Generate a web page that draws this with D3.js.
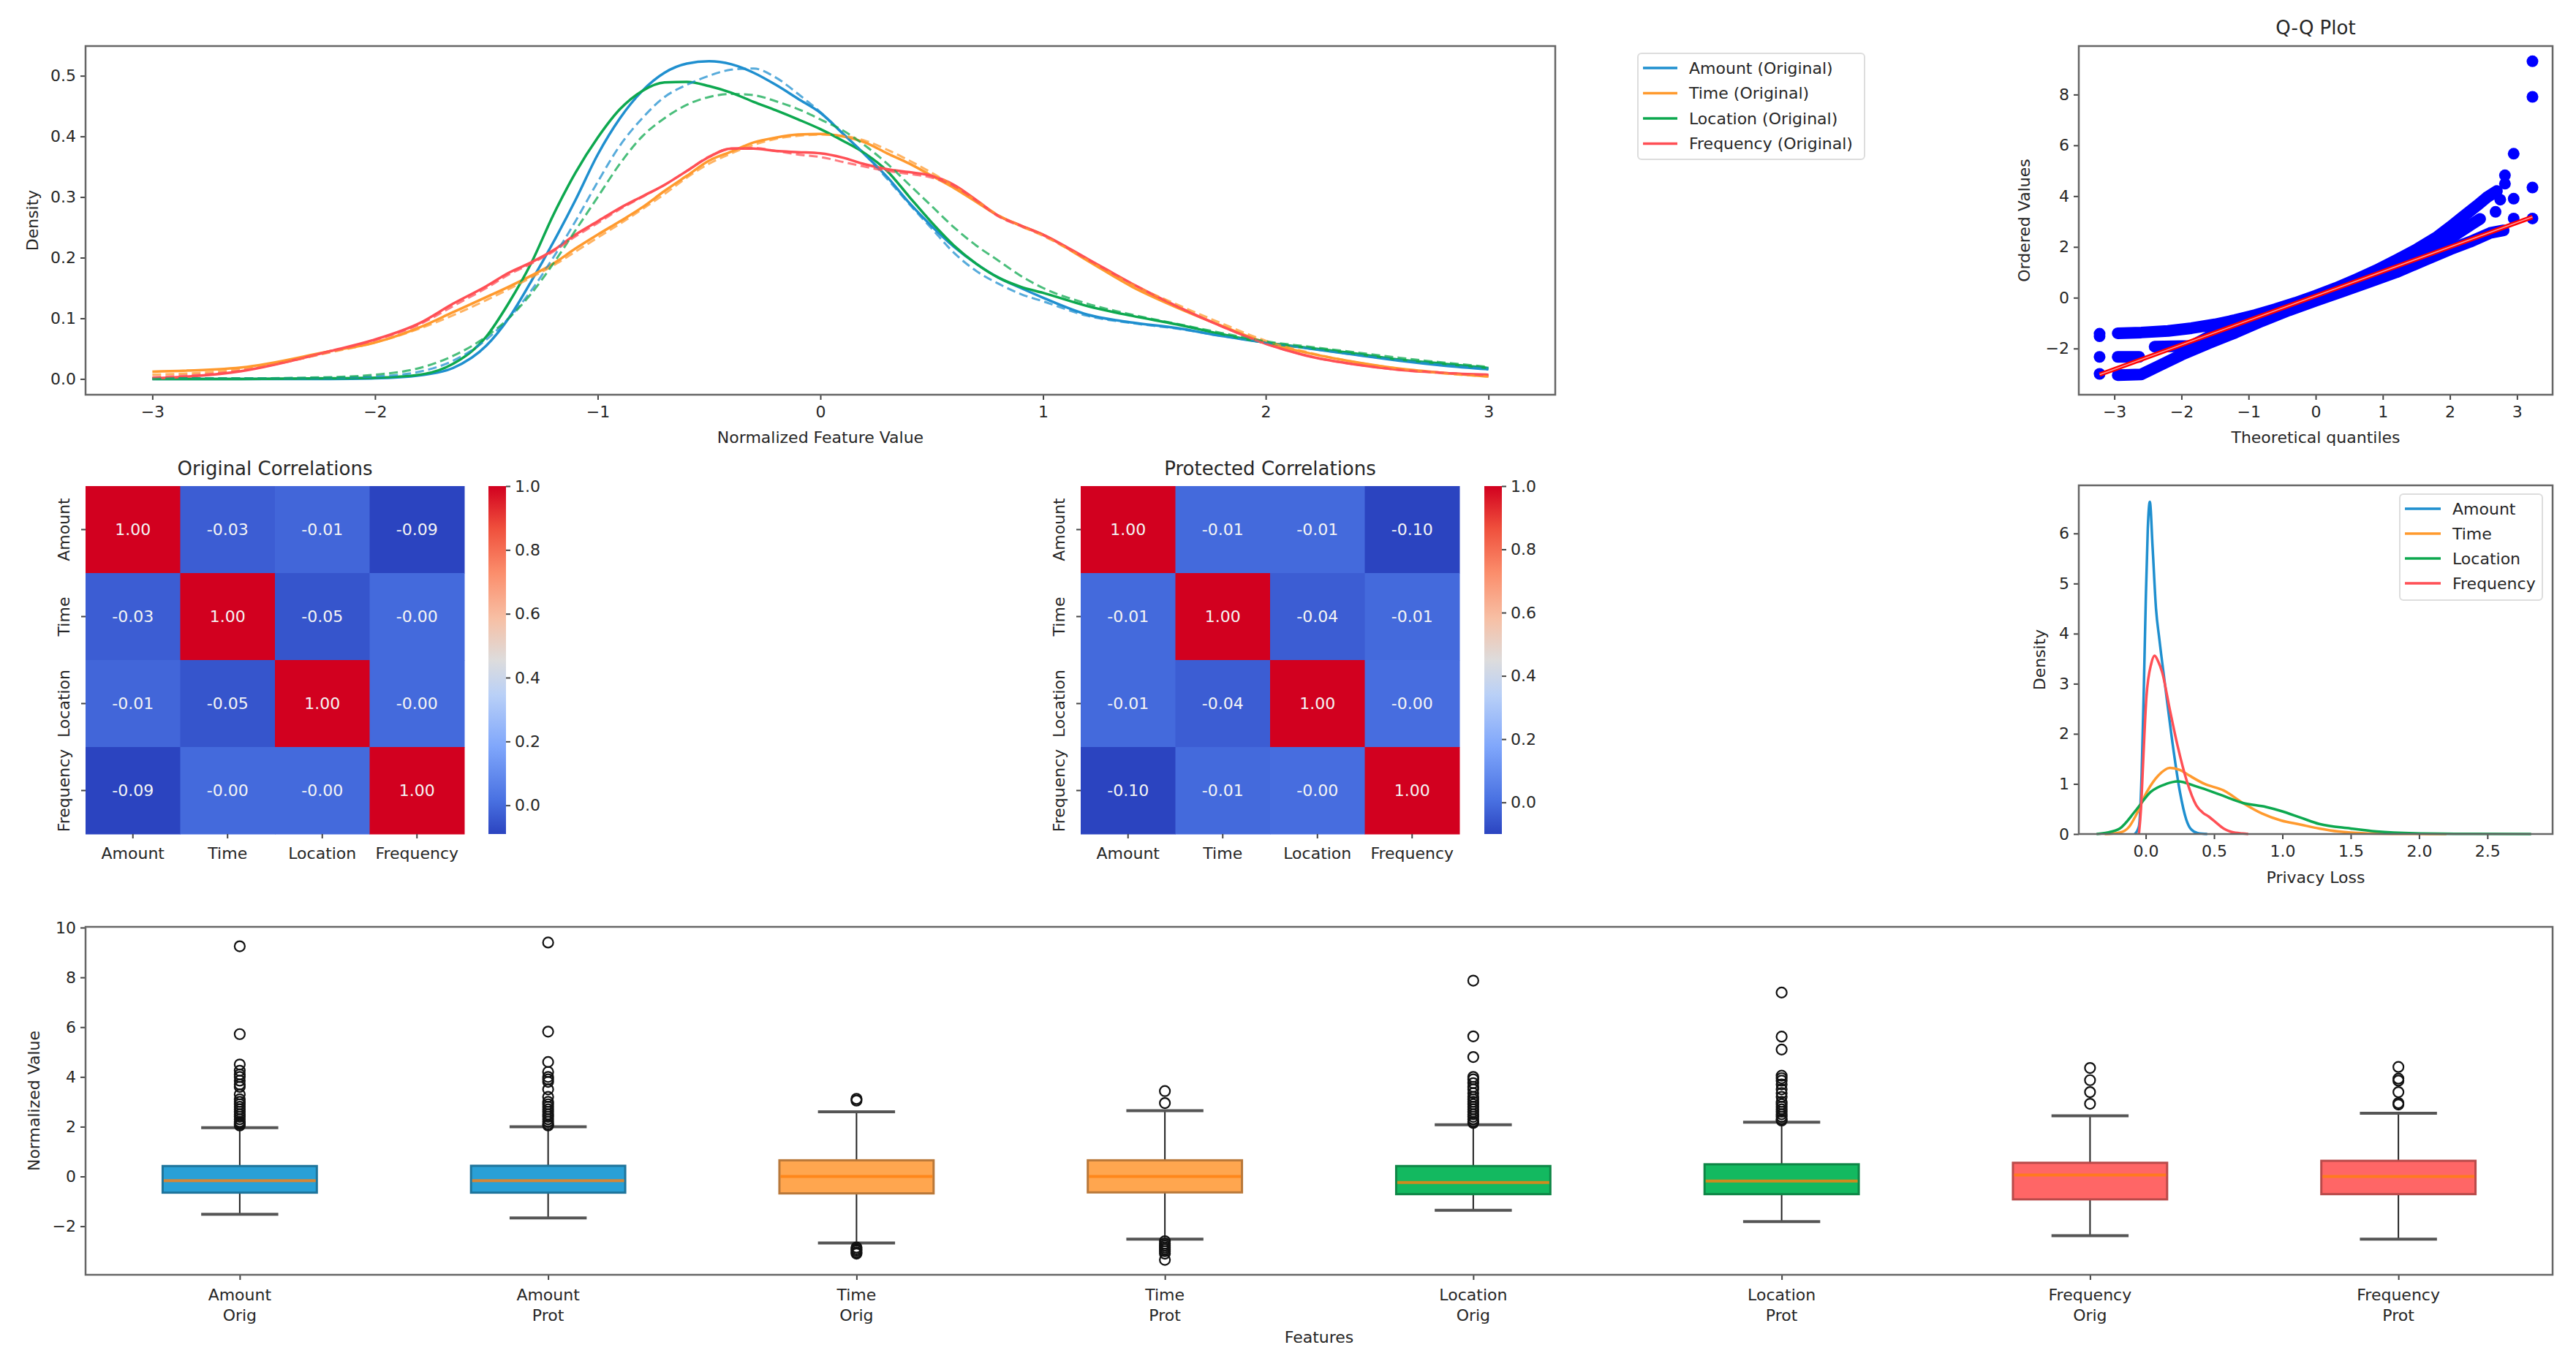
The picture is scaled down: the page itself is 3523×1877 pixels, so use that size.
<!DOCTYPE html>
<html>
<head>
<meta charset="utf-8">
<script src="https://cdn.jsdelivr.net/npm/d3@7"></script>
<style>
  body { margin: 0; background: #fff; }
  svg text { font-family: "DejaVu Sans", sans-serif; fill: #262626; }
</style>
</head>
<body>
<div id="chart-area"></div>
<script>
// ---------- data ----------
const features = ["Amount", "Time", "Location", "Frequency"];
const lineColors = ["#1f8fcf", "#ff9a2e", "#0da84f", "#ff4f55"];
const boxFills = ["#29a0d6", "#ffa64f", "#13b960", "#ff6666"];

// density of normalized values (solid = original, dashed = protected)
const densX = [-3, -2.6, -2.2, -2, -1.8, -1.65, -1.5, -1.4, -1.3, -1.2,
  -1.1, -1, -0.9, -0.8, -0.7, -0.6, -0.5, -0.4, -0.3, -0.2,
  -0.1, 0, 0.1, 0.2, 0.3, 0.4, 0.5, 0.6, 0.7, 0.8,
  0.9, 1, 1.2, 1.4, 1.6, 1.8, 2, 2.2, 2.4, 2.6,
  2.8, 3];
const amountOrig = [0, 0, 0, 0.001, 0.006, 0.018, 0.055, 0.1, 0.16, 0.225,
  0.295, 0.37, 0.43, 0.475, 0.505, 0.52, 0.524, 0.519, 0.505, 0.485,
  0.462, 0.439, 0.405, 0.37, 0.333, 0.29, 0.252, 0.218, 0.19, 0.167,
  0.15, 0.134, 0.106, 0.093, 0.084, 0.071, 0.06, 0.05, 0.04, 0.03,
  0.022, 0.016];
const amountProt = [0.001, 0.001, 0.002, 0.004, 0.012, 0.03, 0.065, 0.1, 0.145, 0.2,
  0.26, 0.325, 0.385, 0.43, 0.465, 0.485, 0.5, 0.51, 0.512, 0.497,
  0.47, 0.44, 0.405, 0.37, 0.33, 0.288, 0.248, 0.208, 0.178, 0.157,
  0.14, 0.128, 0.104, 0.092, 0.083, 0.071, 0.06, 0.05, 0.04, 0.031,
  0.023, 0.017];
const timeOrig = [0.012, 0.019, 0.046, 0.06, 0.085, 0.11, 0.135, 0.152, 0.17, 0.19,
  0.215, 0.238, 0.26, 0.283, 0.31, 0.335, 0.36, 0.375, 0.39, 0.398,
  0.403, 0.404, 0.4, 0.39, 0.372, 0.355, 0.335, 0.315, 0.292, 0.269,
  0.253, 0.238, 0.195, 0.152, 0.118, 0.088, 0.06, 0.042, 0.028, 0.017,
  0.01, 0.004];
const timeProt = [0.007, 0.016, 0.044, 0.06, 0.083, 0.105, 0.13, 0.148, 0.167, 0.187,
  0.21, 0.233, 0.256, 0.28, 0.305, 0.332, 0.355, 0.372, 0.386, 0.396,
  0.401, 0.403, 0.401, 0.393, 0.378, 0.36, 0.34, 0.318, 0.294, 0.27,
  0.252, 0.236, 0.196, 0.156, 0.123, 0.092, 0.063, 0.043, 0.028, 0.017,
  0.009, 0.004];
const locationOrig = [0, 0, 0.001, 0.002, 0.007, 0.025, 0.07, 0.125, 0.19, 0.27,
  0.34, 0.398, 0.445, 0.475, 0.489, 0.49, 0.483, 0.472, 0.457, 0.443,
  0.428, 0.412, 0.393, 0.372, 0.343, 0.3, 0.258, 0.22, 0.19, 0.167,
  0.152, 0.142, 0.12, 0.104, 0.09, 0.074, 0.06, 0.051, 0.042, 0.032,
  0.025, 0.018];
const locationProt = [0.001, 0.001, 0.003, 0.007, 0.018, 0.038, 0.07, 0.1, 0.14, 0.19,
  0.245, 0.3, 0.355, 0.4, 0.43, 0.452, 0.465, 0.47, 0.468, 0.458,
  0.445, 0.428, 0.41, 0.385, 0.355, 0.32, 0.285, 0.25, 0.22, 0.195,
  0.17, 0.15, 0.124, 0.106, 0.091, 0.076, 0.062, 0.053, 0.044, 0.035,
  0.027, 0.02];
const frequencyOrig = [0.001, 0.013, 0.046, 0.065, 0.092, 0.124, 0.153, 0.175, 0.192, 0.212,
  0.238, 0.26, 0.282, 0.301, 0.32, 0.343, 0.366, 0.38, 0.38, 0.376,
  0.374, 0.372, 0.365, 0.354, 0.346, 0.341, 0.335, 0.32, 0.295, 0.269,
  0.253, 0.238, 0.198, 0.157, 0.12, 0.087, 0.058, 0.037, 0.024, 0.015,
  0.01, 0.007];
const frequencyProt = [0.003, 0.014, 0.045, 0.064, 0.09, 0.12, 0.15, 0.172, 0.19, 0.21,
  0.235, 0.257, 0.28, 0.3, 0.32, 0.343, 0.367, 0.38, 0.381, 0.376,
  0.37, 0.366, 0.358, 0.35, 0.343, 0.338, 0.332, 0.318, 0.294, 0.268,
  0.252, 0.237, 0.197, 0.157, 0.12, 0.087, 0.058, 0.037, 0.024, 0.015,
  0.01, 0.006];
const densOrig = [amountOrig, timeOrig, locationOrig, frequencyOrig];
const densProt = [amountProt, timeProt, locationProt, frequencyProt];

// Q-Q plot: dense runs of markers and single markers
const qqUpper = [[-2.95, -1.4], [-2.6, -1.37], [-2.2, -1.31], [-1.85, -1.2], [-1.5, -1.05], [-1.2, -0.88],
  [-0.9, -0.68], [-0.6, -0.45], [-0.3, -0.2], [0, 0.08], [0.3, 0.38], [0.6, 0.72], [0.9, 1.08],
  [1.2, 1.48], [1.5, 1.9], [1.8, 2.38], [2.0, 2.78], [2.2, 3.2], [2.4, 3.62], [2.55, 3.95], [2.7, 4.2]];
const qqMidLeft = [[-2.95, -2.33], [-2.63, -2.33]];
const qqMid = [[-2.4, -1.93], [-1.85, -1.9], [-1.5, -1.4], [-1.2, -1.08], [-0.9, -0.82], [-0.6, -0.56],
  [-0.3, -0.3], [0, -0.02], [0.3, 0.27], [0.6, 0.57], [0.9, 0.9], [1.2, 1.25], [1.5, 1.63],
  [1.8, 2.05], [2.1, 2.5], [2.3, 2.85], [2.45, 3.1]];
const qqLower = [[-2.95, -3.05], [-2.6, -3.02], [-2.35, -2.7], [-2.0, -2.25], [-1.6, -1.8], [-1.2, -1.38],
  [-0.8, -0.92], [-0.4, -0.5], [0, -0.12], [0.4, 0.25], [0.8, 0.62], [1.2, 1.0], [1.6, 1.45],
  [2.0, 1.9], [2.3, 2.2], [2.6, 2.55], [2.8, 2.65]];
const qqDots = [[-3.22, -1.42], [-3.22, -1.52], [-3.22, -2.33], [-3.22, -3.0],
  [2.68, 3.38], [2.75, 3.86], [2.82, 4.49], [2.82, 4.82], [2.95, 5.67], [2.95, 3.9], [2.95, 3.12],
  [3.23, 9.31], [3.23, 7.91], [3.23, 4.34], [3.23, 3.12]];
const qqFit = [[-3.22, -3.03], [3.23, 3.18]];

// correlation matrices (-0.001 stands for a value shown as "-0.00")
const corrOrig = [
  [1.00, -0.03, -0.01, -0.09],
  [-0.03, 1.00, -0.05, -0.001],
  [-0.01, -0.05, 1.00, -0.001],
  [-0.09, -0.001, -0.001, 1.00]];
const corrProt = [
  [1.00, -0.01, -0.01, -0.10],
  [-0.01, 1.00, -0.04, -0.01],
  [-0.01, -0.04, 1.00, -0.001],
  [-0.10, -0.01, -0.001, 1.00]];

// privacy loss densities
const lossAmount = [[-0.08, 0], [-0.05, 0.15], [-0.03, 1.2], [-0.015, 2.8], [0, 4.64], [0.015, 6.1],
  [0.03, 6.63], [0.05, 5.73], [0.075, 4.5], [0.1, 3.88], [0.14, 3.0], [0.19, 1.93], [0.25, 0.84],
  [0.295, 0.3], [0.33, 0.1], [0.38, 0.02], [0.45, 0]];
const lossTime = [[-0.3, 0], [-0.19, 0.03], [-0.12, 0.15], [-0.076, 0.35], [0.008, 0.84], [0.093, 1.17],
  [0.177, 1.32], [0.25, 1.28], [0.317, 1.17], [0.43, 1.0], [0.57, 0.87], [0.71, 0.62], [0.85, 0.41],
  [0.99, 0.27], [1.13, 0.19], [1.27, 0.11], [1.41, 0.05], [1.6, 0.015], [1.9, 0.003], [2.2, 0]];
const lossLocation = [[-0.36, 0], [-0.28, 0.03], [-0.19, 0.11], [-0.076, 0.46], [0.036, 0.84], [0.15, 1.0],
  [0.233, 1.05], [0.37, 0.95], [0.54, 0.79], [0.71, 0.62], [0.88, 0.54], [0.99, 0.46], [1.13, 0.33],
  [1.27, 0.2], [1.5, 0.11], [1.69, 0.05], [1.97, 0.015], [2.4, 0.003], [2.82, 0]];
const lossFrequency = [[-0.05, 0], [-0.035, 0.5], [-0.02, 1.38], [0.005, 2.74], [0.04, 3.4], [0.065, 3.56],
  [0.09, 3.45], [0.12, 3.23], [0.177, 2.47], [0.233, 1.76], [0.3, 1.06], [0.37, 0.57], [0.42, 0.42],
  [0.46, 0.35], [0.51, 0.24], [0.57, 0.11], [0.63, 0.04], [0.71, 0.01], [0.75, 0]];
const lossSeries = [lossAmount, lossTime, lossLocation, lossFrequency];

// box plot statistics
const boxLabels = ["Amount\nOrig", "Amount\nProt", "Time\nOrig", "Time\nProt",
  "Location\nOrig", "Location\nProt", "Frequency\nOrig", "Frequency\nProt"];
const boxQ1 = [-0.65, -0.65, -0.68, -0.64, -0.71, -0.71, -0.92, -0.71];
const boxMedian = [-0.17, -0.17, 0.0, 0.0, -0.24, -0.18, 0.06, 0.0];
const boxQ3 = [0.42, 0.43, 0.65, 0.65, 0.42, 0.49, 0.55, 0.63];
const boxLow = [-1.52, -1.67, -2.67, -2.52, -1.36, -1.81, -2.38, -2.52];
const boxHigh = [1.96, 2.0, 2.6, 2.64, 2.08, 2.18, 2.44, 2.54];
const boxOutliers = [
  [2.05, 2.1, 2.15, 2.2, 2.3, 2.4, 2.5, 2.6, 2.7, 2.8, 2.9, 3.0, 3.1, 3.3, 3.6, 3.7, 3.85, 4.0, 4.1, 4.25, 4.5, 5.72, 9.25],
  [2.05, 2.1, 2.2, 2.3, 2.4, 2.5, 2.6, 2.7, 2.8, 2.9, 3.0, 3.2, 3.5, 3.8, 3.9, 4.0, 4.2, 4.6, 5.82, 9.4],
  [3.05, 3.12, -2.85, -2.92, -2.98, -3.05, -3.1],
  [2.95, 3.43, -2.6, -2.7, -2.78, -2.85, -2.92, -3.0, -3.1, -3.35],
  [2.15, 2.2, 2.3, 2.4, 2.5, 2.6, 2.7, 2.8, 2.9, 3.0, 3.1, 3.2, 3.35, 3.5, 3.6, 3.75, 3.9, 4.0, 4.8, 5.63, 7.87],
  [2.25, 2.3, 2.4, 2.5, 2.6, 2.7, 2.8, 2.9, 3.0, 3.2, 3.35, 3.5, 3.7, 3.85, 3.95, 4.05, 5.1, 5.62, 7.39],
  [2.92, 3.39, 3.87, 4.36],
  [2.89, 2.95, 3.39, 3.85, 3.93, 4.4]];

// ---------- drawing ----------
const W = 3523, H = 1877;
const FONT = 22;
const svg = d3.select("#chart-area").append("svg")
  .attr("width", W).attr("height", H)
  .style("background", "#fff");

function addAxis(g, axis, tx, ty) {
  let a = g.append("g").attr("transform", "translate(" + tx + "," + ty + ")").call(axis);
  a.attr("font-size", FONT).attr("font-family", "DejaVu Sans");
  a.select(".domain").remove();
  a.selectAll(".tick line").attr("stroke", "#444").attr("stroke-width", 2);
  a.selectAll(".tick text").attr("fill", "#333");
  return a;
}

function frame(g, w, h) {
  g.append("rect").attr("width", w).attr("height", h)
    .attr("fill", "none").attr("stroke", "#666").attr("stroke-width", 2.5);
}

function label(x, y, txt, size, rotate) {
  let t = svg.append("text")
    .attr("text-anchor", "middle")
    .attr("dominant-baseline", "central")
    .attr("font-size", size || FONT)
    .text(txt);
  if (rotate) t.attr("transform", "translate(" + x + "," + y + ")rotate(-90)");
  else t.attr("x", x).attr("y", y);
  return t;
}

function legend(x, y, w, h, names, step, textX) {
  let g = svg.append("g").attr("transform", "translate(" + x + "," + y + ")");
  g.append("rect").attr("width", w).attr("height", h).attr("rx", 5)
    .attr("fill", "#fff").attr("fill-opacity", 0.85)
    .attr("stroke", "#ddd").attr("stroke-width", 2);
  names.forEach((n, i) => {
    let yy = 20 + i * step;
    g.append("line").attr("x1", 7).attr("x2", textX - 16).attr("y1", yy).attr("y2", yy)
      .attr("stroke", lineColors[i]).attr("stroke-width", 3.5);
    g.append("text").attr("x", textX).attr("y", yy).attr("dominant-baseline", "central")
      .attr("font-size", FONT).text(n);
  });
}

// ---- panel 1: density of normalized features ----
let p1 = {x: 117, y: 63, w: 2010, h: 477};
let g1 = svg.append("g").attr("transform", "translate(" + p1.x + "," + p1.y + ")");
let x1 = d3.scaleLinear().domain([-3.3, 3.3]).range([0, p1.w]);
let y1 = d3.scaleLinear().domain([-0.026, 0.549]).range([p1.h, 0]);
let densLine = d3.line().x((d, i) => x1(densX[i])).y(d => y1(d)).curve(d3.curveMonotoneX);

densOrig.forEach((s, i) => {
  g1.append("path").attr("d", densLine(s)).attr("fill", "none")
    .attr("stroke", lineColors[i]).attr("stroke-width", 3.5);
});
densProt.forEach((s, i) => {
  g1.append("path").attr("d", densLine(s)).attr("fill", "none")
    .attr("stroke", lineColors[i]).attr("stroke-width", 3)
    .attr("stroke-dasharray", "12,6").attr("opacity", 0.75);
});
addAxis(g1, d3.axisBottom(x1).tickValues([-3, -2, -1, 0, 1, 2, 3]).tickFormat(d3.format("d")).tickSize(7).tickPadding(8), 0, p1.h);
addAxis(g1, d3.axisLeft(y1).tickValues([0, 0.1, 0.2, 0.3, 0.4, 0.5]).tickFormat(d3.format(".1f")).tickSize(7).tickPadding(6), 0, 0);
frame(g1, p1.w, p1.h);
label(p1.x + p1.w / 2, 598, "Normalized Feature Value");
label(44, p1.y + p1.h / 2, "Density", FONT, true);

legend(2240, 73, 310, 145, features.map(f => f + " (Original)"), 34.5, 70);

// ---- panel 2: Q-Q plot ----
let p2 = {x: 2843, y: 63, w: 648, h: 477};
let g2 = svg.append("g").attr("transform", "translate(" + p2.x + "," + p2.y + ")");
let x2 = d3.scaleLinear().domain([-3.53, 3.53]).range([0, p2.w]);
let y2 = d3.scaleLinear().domain([-3.82, 9.91]).range([p2.h, 0]);
let qqLine = d3.line().x(d => x2(d[0])).y(d => y2(d[1]));
[qqUpper, qqMidLeft, qqMid, qqLower].forEach(s => {
  g2.append("path").attr("d", qqLine(s)).attr("fill", "none")
    .attr("stroke", "#0000ff").attr("stroke-width", 16)
    .attr("stroke-linecap", "round").attr("stroke-linejoin", "round");
});
g2.selectAll("circle.qq").data(qqDots).enter().append("circle")
  .attr("cx", d => x2(d[0])).attr("cy", d => y2(d[1])).attr("r", 8).attr("fill", "#0000ff");
g2.append("path").attr("d", qqLine(qqFit)).attr("stroke", "#ff0000").attr("stroke-width", 6).attr("fill", "none");
g2.append("path").attr("d", qqLine(qqFit)).attr("stroke", "#ff9a9a").attr("stroke-width", 1.5).attr("fill", "none");
addAxis(g2, d3.axisBottom(x2).tickValues([-3, -2, -1, 0, 1, 2, 3]).tickFormat(d3.format("d")).tickSize(7).tickPadding(8), 0, p2.h);
addAxis(g2, d3.axisLeft(y2).tickValues([-2, 0, 2, 4, 6, 8]).tickFormat(d3.format("d")).tickSize(7).tickPadding(6), 0, 0);
frame(g2, p2.w, p2.h);
label(p2.x + p2.w / 2, 38, "Q-Q Plot", 26);
label(p2.x + p2.w / 2, 598, "Theoretical quantiles");
label(2768, p2.y + p2.h / 2, "Ordered Values", FONT, true);

// ---- panels 3/4: correlation heatmaps ----
const heatStops = [0, 0.1, 0.25, 0.4, 0.5, 0.62, 0.75, 0.88, 1];
const heatColors = ["#2b44c0", "#4a72e2", "#7fa6fb", "#b9d0f7", "#dddcdc", "#f7bfa4", "#fb8e6c", "#ef4f3c", "#d2001f"];
// seaborn-style annotation: plain hyphen, keeps "-0.00"
const fmt2 = v => (v < 0 ? "-" : "") + Math.abs(v).toFixed(2);

function drawHeatmap(left, matrix, title, cbLeft, id) {
  let top = 665, w = 518, h = 476;
  let g = svg.append("g").attr("transform", "translate(" + left + "," + top + ")");
  let xb = d3.scaleBand().domain(features).range([0, w]);
  let yb = d3.scaleBand().domain(features).range([0, h]);
  let vmin = d3.min(matrix.flat());
  let color = d3.scaleLinear().domain(heatStops.map(t => vmin + t * (1 - vmin))).range(heatColors);

  matrix.forEach((row, r) => row.forEach((v, c) => {
    g.append("rect").attr("x", xb(features[c])).attr("y", yb(features[r]))
      .attr("width", xb.bandwidth() + 0.5).attr("height", yb.bandwidth() + 0.5)
      .attr("fill", color(v));
    g.append("text").attr("x", xb(features[c]) + xb.bandwidth() / 2).attr("y", yb(features[r]) + yb.bandwidth() / 2)
      .attr("text-anchor", "middle").attr("dominant-baseline", "central")
      .attr("font-size", FONT).style("fill", "#f4f4f4")
      .text(fmt2(v));
  }));

  features.forEach(f => {
    let cx = xb(f) + xb.bandwidth() / 2, cy = yb(f) + yb.bandwidth() / 2;
    g.append("line").attr("x1", cx).attr("x2", cx).attr("y1", h).attr("y2", h + 6).attr("stroke", "#444").attr("stroke-width", 2);
    g.append("line").attr("x1", 0).attr("x2", -6).attr("y1", cy).attr("y2", cy).attr("stroke", "#444").attr("stroke-width", 2);
    g.append("text").attr("x", cx).attr("y", h + 26).attr("text-anchor", "middle")
      .attr("dominant-baseline", "central").attr("font-size", FONT).text(f);
    g.append("text").attr("transform", "translate(-30," + cy + ")rotate(-90)").attr("text-anchor", "middle")
      .attr("dominant-baseline", "central").attr("font-size", FONT).text(f);
  });
  label(left + w / 2, 641, title, 26);

  // colour bar
  let grad = svg.append("defs").append("linearGradient").attr("id", id)
    .attr("x1", 0).attr("y1", 1).attr("x2", 0).attr("y2", 0);
  heatStops.forEach((t, i) => grad.append("stop").attr("offset", t).attr("stop-color", heatColors[i]));
  let cb = svg.append("g").attr("transform", "translate(" + cbLeft + "," + top + ")");
  cb.append("rect").attr("width", 24).attr("height", h).attr("fill", "url(#" + id + ")");
  let cbScale = d3.scaleLinear().domain([vmin, 1]).range([h, 0]);
  addAxis(cb, d3.axisRight(cbScale).tickValues([0, 0.2, 0.4, 0.6, 0.8, 1.0]).tickFormat(d3.format(".1f")).tickSize(6).tickPadding(6), 24, 0);
}
drawHeatmap(117, corrOrig, "Original Correlations", 668, "cbOrig");
drawHeatmap(1478, corrProt, "Protected Correlations", 2030, "cbProt");

// ---- panel 5: privacy loss ----
let p5 = {x: 2843, y: 664, w: 648, h: 477};
let g5 = svg.append("g").attr("transform", "translate(" + p5.x + "," + p5.y + ")");
let x5 = d3.scaleLinear().domain([-0.49, 2.977]).range([0, p5.w]);
let y5 = d3.scaleLinear().domain([0, 6.96]).range([p5.h, 0]);
let lossLine = d3.line().x(d => x5(d[0])).y(d => y5(d[1])).curve(d3.curveMonotoneX);
lossSeries.forEach((s, i) => {
  g5.append("path").attr("d", lossLine(s)).attr("fill", "none")
    .attr("stroke", lineColors[i]).attr("stroke-width", 3.5);
});
addAxis(g5, d3.axisBottom(x5).tickValues([0, 0.5, 1, 1.5, 2, 2.5]).tickFormat(d3.format(".1f")).tickSize(7).tickPadding(8), 0, p5.h);
addAxis(g5, d3.axisLeft(y5).tickValues([0, 1, 2, 3, 4, 5, 6]).tickFormat(d3.format("d")).tickSize(7).tickPadding(6), 0, 0);
frame(g5, p5.w, p5.h);
label(p5.x + p5.w / 2, 1200, "Privacy Loss");
label(2789, p5.y + p5.h / 2, "Density", FONT, true);
legend(3282, 676, 195, 145, features, 34, 72);

// ---- panel 6: box plots ----
let p6 = {x: 117, y: 1268, w: 3374, h: 476};
let g6 = svg.append("g").attr("transform", "translate(" + p6.x + "," + p6.y + ")");
let x6 = d3.scaleLinear().domain([0.5, 8.5]).range([0, p6.w]);
let y6 = d3.scaleLinear().domain([-3.95, 10.03]).range([p6.h, 0]);
let boxW = x6(1.5) - x6(1);
let capW = boxW / 2;

boxLabels.forEach((lab, i) => {
  let cx = x6(i + 1);
  let fill = boxFills[Math.floor(i / 2)];
  let edge = d3.color(fill).darker(0.9);
  // whiskers
  g6.append("line").attr("x1", cx).attr("x2", cx).attr("y1", y6(boxQ3[i])).attr("y2", y6(boxHigh[i]))
    .attr("stroke", "#222").attr("stroke-width", 2);
  g6.append("line").attr("x1", cx).attr("x2", cx).attr("y1", y6(boxQ1[i])).attr("y2", y6(boxLow[i]))
    .attr("stroke", "#222").attr("stroke-width", 2);
  [boxHigh[i], boxLow[i]].forEach(v => {
    g6.append("line").attr("x1", cx - capW / 2).attr("x2", cx + capW / 2).attr("y1", y6(v)).attr("y2", y6(v))
      .attr("stroke", "#555").attr("stroke-width", 4);
  });
  // box
  g6.append("rect").attr("x", cx - boxW / 2).attr("y", y6(boxQ3[i]))
    .attr("width", boxW).attr("height", y6(boxQ1[i]) - y6(boxQ3[i]))
    .attr("fill", fill).attr("stroke", edge).attr("stroke-width", 3);
  g6.append("line").attr("x1", cx - boxW / 2 + 1.5).attr("x2", cx + boxW / 2 - 1.5)
    .attr("y1", y6(boxMedian[i])).attr("y2", y6(boxMedian[i]))
    .attr("stroke", "#ff7f0e").attr("stroke-opacity", 0.8).attr("stroke-width", 4);
  // outliers
  g6.selectAll(null).data(boxOutliers[i]).enter().append("circle")
    .attr("cx", cx).attr("cy", d => y6(d)).attr("r", 7)
    .attr("fill", "none").attr("stroke", "#111").attr("stroke-width", 2.2);
  // labels
  let parts = lab.split("\n");
  parts.forEach((p, k) => {
    g6.append("text").attr("x", cx).attr("y", p6.h + 27 + k * 28).attr("text-anchor", "middle")
      .attr("dominant-baseline", "central").attr("font-size", FONT).text(p);
  });
});
addAxis(g6, d3.axisBottom(x6).tickValues(d3.range(1, 9)).tickFormat("").tickSize(7), 0, p6.h);
addAxis(g6, d3.axisLeft(y6).tickValues([-2, 0, 2, 4, 6, 8, 10]).tickFormat(d3.format("d")).tickSize(7).tickPadding(6), 0, 0);
frame(g6, p6.w, p6.h);
label(p6.x + p6.w / 2, 1829, "Features");
label(46, p6.y + p6.h / 2, "Normalized Value", FONT, true);
</script>
</body>
</html>
